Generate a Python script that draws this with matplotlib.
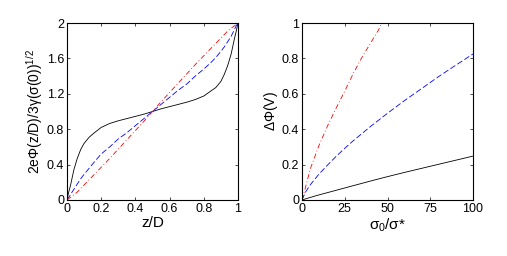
import numpy as np
import matplotlib.pyplot as plt

plt.rcParams['font.family'] = ['Liberation Sans', 'DejaVu Sans']
plt.rcParams['mathtext.fontset'] = 'custom'
plt.rcParams['mathtext.rm'] = 'Liberation Sans'
plt.rcParams['mathtext.it'] = 'Liberation Sans'

# left panel: normalised potential profile across the gap
z = [0, 0.01, 0.02, 0.04, 0.06, 0.08, 0.1, 0.13, 0.16, 0.2, 0.25, 0.3, 0.35, 0.4, 0.45, 0.5,
     0.55, 0.6, 0.65, 0.7, 0.75, 0.8, 0.84, 0.87, 0.9, 0.92, 0.94, 0.96, 0.98, 0.99, 1]
phi_black = [0, 0.09, 0.16, 0.34, 0.47, 0.57, 0.64, 0.71, 0.76, 0.82, 0.865, 0.895, 0.92, 0.945, 0.97, 1.0,
             1.03, 1.055, 1.08, 1.105, 1.135, 1.175, 1.23, 1.27, 1.34, 1.42, 1.52, 1.65, 1.83, 1.91, 2.0]
phi_blue = [0, 0.03, 0.06, 0.12, 0.18, 0.24, 0.29, 0.36, 0.43, 0.52, 0.6, 0.69, 0.76, 0.84, 0.92, 1.0,
            1.08, 1.16, 1.24, 1.31, 1.4, 1.48, 1.55, 1.61, 1.68, 1.73, 1.79, 1.85, 1.93, 1.97, 2.0]
phi_red = [0, 0.015, 0.03, 0.06, 0.09, 0.13, 0.17, 0.23, 0.29, 0.37, 0.47, 0.575, 0.68, 0.785, 0.89, 1.0,
           1.11, 1.215, 1.32, 1.425, 1.53, 1.63, 1.71, 1.77, 1.83, 1.87, 1.91, 1.94, 1.97, 1.985, 2.0]

# right panel: potential drop vs surface charge ratio
s = [0, 2, 5, 10, 15, 20, 25, 30, 40, 50, 60, 70, 80, 90, 100]
dphi_black = [0, 0.006, 0.015, 0.029, 0.042, 0.055, 0.068, 0.081, 0.107, 0.132, 0.156, 0.179, 0.202, 0.225, 0.248]
dphi_blue = [0, 0.044, 0.088, 0.147, 0.198, 0.247, 0.292, 0.335, 0.415, 0.49, 0.562, 0.63, 0.698, 0.762, 0.825]
red_s = [0, 2, 5, 10, 15, 20, 25, 30, 35, 40, 45, 46.6]
dphi_red = [0, 0.07, 0.18, 0.31, 0.42, 0.52, 0.615, 0.715, 0.805, 0.885, 0.965, 1.0]

fig = plt.figure(figsize=(5.07, 2.56), dpi=100)
ax1 = fig.add_axes([67/507, 1 - 200/256, 171/507, 177/256])
ax2 = fig.add_axes([302/507, 1 - 200/256, 171/507, 177/256])

ax1.plot(z, phi_black, color='k', lw=0.6)
ax1.plot(z, phi_blue, color='b', lw=0.6, dashes=(7, 3))
ax1.plot(z, phi_red, color='r', lw=0.6, dashes=(6, 3, 1, 3))
ax1.set_xlim(0, 1)
ax1.set_ylim(0, 2)
ax1.set_xticks([0, 0.2, 0.4, 0.6, 0.8, 1])
ax1.set_xticklabels(['0', '0.2', '0.4', '0.6', '0.8', '1'])
ax1.set_yticks([0, 0.4, 0.8, 1.2, 1.6, 2])
ax1.set_yticklabels(['0', '0.4', '0.8', '1.2', '1.6', '2'])
ax1.set_xlabel('z/D', fontsize=11, labelpad=1)
ax1.set_ylabel(r'2e$\Phi$(z/D)/3$\gamma$($\sigma$(0))$^{1/2}$', fontsize=10, labelpad=1)

ax2.plot(s, dphi_black, color='k', lw=0.6)
ax2.plot(s, dphi_blue, color='b', lw=0.6, dashes=(7, 3))
ax2.plot(red_s, dphi_red, color='r', lw=0.6, dashes=(6, 3, 1, 3))
ax2.set_xlim(0, 100)
ax2.set_ylim(0, 1)
ax2.set_xticks([0, 25, 50, 75, 100])
ax2.set_yticks([0, 0.2, 0.4, 0.6, 0.8, 1])
ax2.set_yticklabels(['0', '0.2', '0.4', '0.6', '0.8', '1'])
ax2.set_xlabel(r'$\sigma_0$/$\sigma$*', fontsize=11, labelpad=1)
ax2.set_ylabel(r'$\Delta\Phi$(V)', fontsize=10, labelpad=1)

for ax in (ax1, ax2):
    ax.tick_params(direction='in', length=2, width=0.5, labelsize=9, pad=2,
                   top=True, right=True)
    for sp in ax.spines.values():
        sp.set_linewidth(0.8)

fig.savefig('out.png', dpi=100)
